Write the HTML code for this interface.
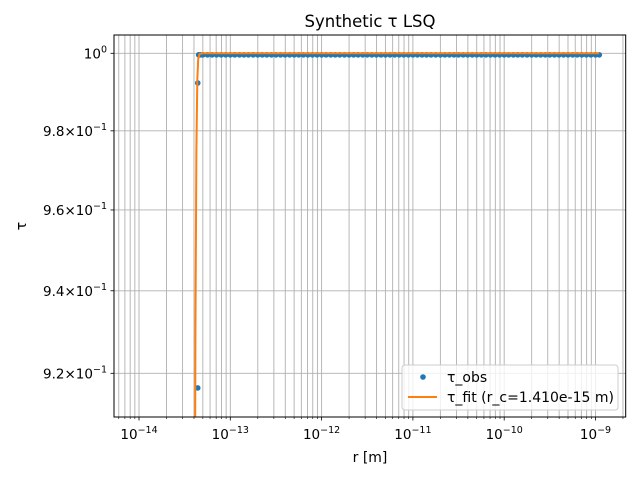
<!DOCTYPE html>
<html><head><meta charset="utf-8"><style>
html,body{margin:0;padding:0;background:#fff;width:640px;height:480px;overflow:hidden}
#wrap{position:relative;width:640px;height:480px;overflow:hidden}
svg{position:absolute;left:0;top:0;font-family:"DejaVu Sans","Liberation Sans",sans-serif}
</style></head><body><div id="wrap">
<svg id="c" width="640" height="480"></svg>
<svg width="640" height="480">
<text x="370" y="27" text-anchor="middle" font-size="16.5">Synthetic τ LSQ</text>
<text x="370" y="462" text-anchor="middle" font-size="14">r [m]</text>
<text x="26" y="226" text-anchor="middle" font-size="14" transform="rotate(-90 26 226)">τ</text>
<g>
<rect x="402" y="365" width="216" height="45" rx="3" fill="#fff" fill-opacity="0.8" stroke="#ccc"/>
<circle cx="423" cy="377" r="2.8" fill="#1f77b4"/>
<text x="447" y="382" font-size="14">τ_obs</text>
<line x1="408" x2="437" y1="397" y2="397" stroke="#ff7f0e" stroke-width="2"/>
<text x="447" y="402" font-size="14">τ_fit (r_c=1.410e-15 m)</text>
</g>
</svg>
</div>
<script>
const obsR=[4.4e-14,4.4e-14,4.5e-14,4.7e-14,5.01e-14,5.62e-14,6.31e-14,7.08e-14,7.94e-14,8.91e-14,
1e-13,1.12e-13,1.26e-13,1.41e-13,1.58e-13,1.78e-13,2e-13,2.24e-13,2.51e-13,2.82e-13,3.16e-13,3.55e-13,3.98e-13,4.47e-13,5.01e-13,5.62e-13,6.31e-13,7.08e-13,7.94e-13,8.91e-13,
1e-12,1.12e-12,1.26e-12,1.41e-12,1.58e-12,1.78e-12,2e-12,2.24e-12,2.51e-12,2.82e-12,3.16e-12,3.55e-12,3.98e-12,4.47e-12,5.01e-12,5.62e-12,6.31e-12,7.08e-12,7.94e-12,8.91e-12,
1e-11,1.12e-11,1.26e-11,1.41e-11,1.58e-11,1.78e-11,2e-11,2.24e-11,2.51e-11,2.82e-11,3.16e-11,3.55e-11,3.98e-11,4.47e-11,5.01e-11,5.62e-11,6.31e-11,7.08e-11,7.94e-11,8.91e-11,
1e-10,1.12e-10,1.26e-10,1.41e-10,1.58e-10,1.78e-10,2e-10,2.24e-10,2.51e-10,2.82e-10,3.16e-10,3.55e-10,3.98e-10,4.47e-10,5.01e-10,5.62e-10,6.31e-10,7.08e-10,7.94e-10,8.91e-10,
1e-9,1.1e-9];
const obsT=[0.9165,0.9923];
for(let i=2;i<obsR.length;i++)obsT.push(0.9996);
const fitR=[4.05e-14,4.15e-14,4.25e-14,4.35e-14,4.45e-14,4.6e-14,5e-14,1e-13,1e-12,1e-11,1e-10,1.1e-9];
const fitT=[0.85,0.93,0.975,0.993,0.9985,0.9998,1,1,1,1,1,1];
const xTickExp=[-14,-13,-12,-11,-10,-9];
const yTicks=[1.0,0.98,0.96,0.94,0.92];
const yTickLabels=["10^0","9.8×10^-1","9.6×10^-1","9.4×10^-1","9.2×10^-1"];

const L=114,R=625.7,T=35,B=417;
const xmin=-14.274,xmax=-8.669;
const X=v=>L+(Math.log10(v)-xmin)/(xmax-xmin)*(R-L);
const Y=v=>53.3-Math.log10(v)*8837;
const svg=document.getElementById('c');
const NS='http://www.w3.org/2000/svg';
function mk(t,a,p){const e=document.createElementNS(NS,t);for(const k in a)e.setAttribute(k,a[k]);(p||svg).appendChild(e);return e;}
const grid=mk('g',{});


for(let d=-15;d<=-9;d++){for(let m=1;m<=9;m++){const v=m*Math.pow(10,d);const x=X(v);if(x<L||x>R)continue;
 mk('line',{x1:x,x2:x,y1:T,y2:B,stroke:'#b0b0b0','stroke-width':0.9},grid);
 mk('line',{x1:x,x2:x,y1:B,y2:B+(m==1?3.5:2),stroke:'#000','stroke-width':m==1?0.8:0.6});}}
yTicks.forEach((v,i)=>{const y=Y(v);
 mk('line',{x1:L,x2:R,y1:y,y2:y,stroke:'#b0b0b0','stroke-width':0.9},grid);
 mk('line',{x1:L-3.5,x2:L,y1:y,y2:y,stroke:'#000','stroke-width':0.8});
 const t=mk('text',{x:L-7,y:y+5,'text-anchor':'end','font-size':13.5});
 
 
 const s=yTickLabels[i];
 if(s==="10^0"){t.innerHTML='10<tspan dy="-6" font-size="9.5">0</tspan>';}
 else{const p=s.split('^');t.innerHTML=p[0]+'<tspan dy="-6" font-size="9.5">'+p[1].replace('-','−')+'</tspan>';}
});
xTickExp.forEach(e=>{const x=X(Math.pow(10,e));
 const t=mk('text',{x:x,y:B+22,'text-anchor':'middle','font-size':13.5});
 
 
 t.innerHTML='10<tspan dy="-6" font-size="9.5">−'+(-e)+'</tspan>';
});
const clip=mk('clipPath',{id:'cp'});mk('rect',{x:L,y:T,width:R-L,height:B-T},clip);
const obs=mk('g',{'clip-path':'url(#cp)'});


obsR.forEach((r,i)=>{const c=mk('circle',{cx:X(r),cy:Y(obsT[i]),r:2.8,fill:'#1f77b4'},obs);
 
 });
const fl=mk('polyline',{points:fitR.map((r,i)=>X(r)+','+Y(fitT[i])).join(' '),fill:'none',stroke:'#ff7f0e','stroke-width':2,'clip-path':'url(#cp)'});


const fr=mk('rect',{x:L,y:T,width:R-L,height:B-T,fill:'none',stroke:'#000','stroke-width':1});


</script>
</body></html>
